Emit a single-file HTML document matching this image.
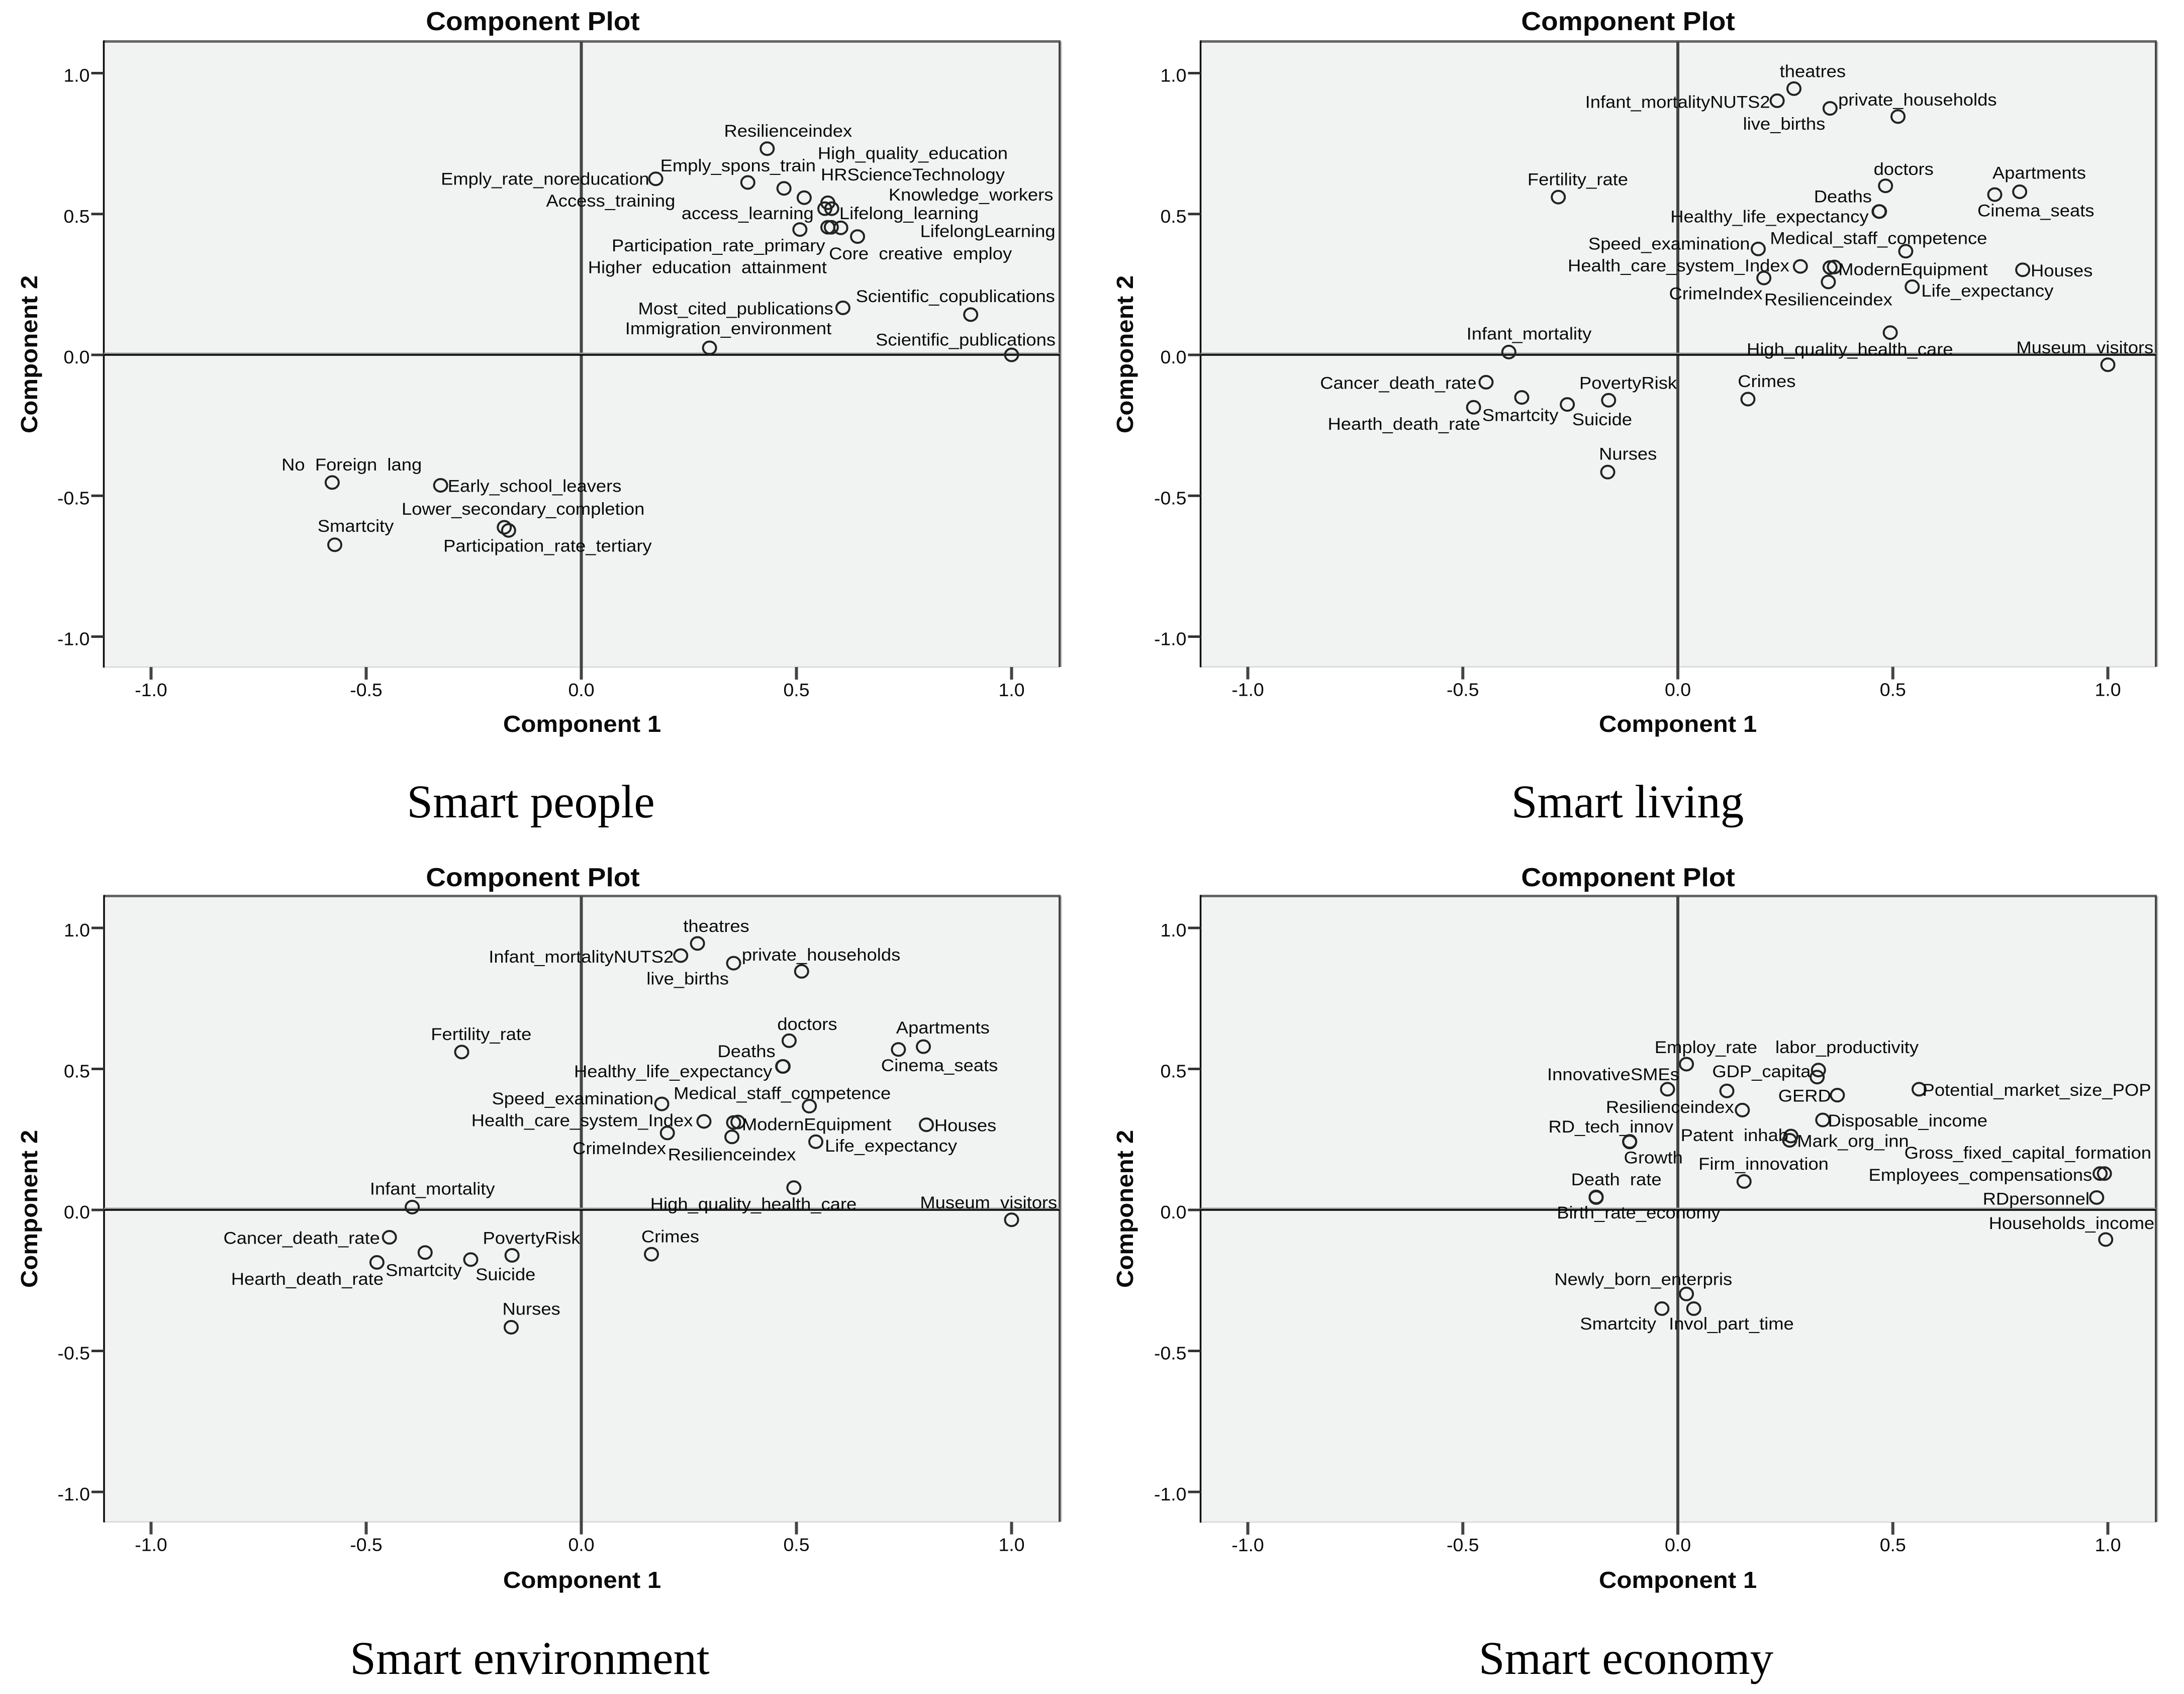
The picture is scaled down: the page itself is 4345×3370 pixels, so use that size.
<!DOCTYPE html>
<html lang="en">
<head>
<meta charset="utf-8">
<title>Component Plots</title>
<style>
html,body{margin:0;padding:0;background:#fff;}
svg{display:block;}
text{font-family:"Liberation Sans",sans-serif;fill:#0a0a0a;white-space:pre;}
.title{font-weight:bold;font-size:52px;}
.axis-title{font-weight:bold;font-size:46px;}
.caption{font-family:"Liberation Serif",serif;font-size:93px;fill:#000;}
</style>
</head>
<body>
<svg id="figure" xmlns="http://www.w3.org/2000/svg" width="4345" height="3370" viewBox="0 0 4345 3370">
  <rect x="0" y="0" width="4345" height="3370" fill="#fff"/>

  <g id="panel-people"></g>
  <g id="panel-living"></g>
  <g id="panel-environment"></g>
  <g id="panel-economy"></g>

  <text class="title" text-anchor="middle" transform="translate(1060,60) scale(1.06,1)">Component Plot</text>
  <text class="title" text-anchor="middle" transform="translate(3239,60) scale(1.06,1)">Component Plot</text>
  <text class="title" text-anchor="middle" transform="translate(1060,1763) scale(1.06,1)">Component Plot</text>
  <text class="title" text-anchor="middle" transform="translate(3239,1763) scale(1.06,1)">Component Plot</text>

  <text class="axis-title" text-anchor="middle" transform="translate(1158,1456) scale(1.07,1)">Component 1</text>
  <text class="axis-title" text-anchor="middle" transform="translate(3338,1456) scale(1.07,1)">Component 1</text>
  <text class="axis-title" text-anchor="middle" transform="translate(1158,3159) scale(1.07,1)">Component 1</text>
  <text class="axis-title" text-anchor="middle" transform="translate(3338,3159) scale(1.07,1)">Component 1</text>

  <text class="axis-title" text-anchor="middle" transform="translate(74,705) rotate(-90) scale(1.07,1)">Component 2</text>
  <text class="axis-title" text-anchor="middle" transform="translate(2254,705) rotate(-90) scale(1.07,1)">Component 2</text>
  <text class="axis-title" text-anchor="middle" transform="translate(74,2405) rotate(-90) scale(1.07,1)">Component 2</text>
  <text class="axis-title" text-anchor="middle" transform="translate(2254,2405) rotate(-90) scale(1.07,1)">Component 2</text>

  <text class="caption" text-anchor="middle" x="1056" y="1626">Smart people</text>
  <text class="caption" text-anchor="middle" x="3238" y="1626">Smart living</text>
  <text class="caption" text-anchor="middle" x="1054" y="3330">Smart environment</text>
  <text class="caption" text-anchor="middle" x="3235" y="3330">Smart economy</text>
</svg>

<script>
// ---- Tick data ----
const tickValues = [-1, -0.5, 0, 0.5, 1];
const tickLabels = ['-1.0', '-0.5', '0.0', '0.5', '1.0'];

// ---- Smart people ----
const peopleNames = ['Resilienceindex','High_quality_education','HRScienceTechnology','Emply_spons_train','Access_training','Emply_rate_noreducation','Knowledge_workers','access_learning','Lifelong_learning','LifelongLearning','Participation_rate_primary','Core  creative  employ','Higher  education  attainment','Most_cited_publications','Scientific_copublications','Immigration_environment','Scientific_publications','No  Foreign  lang','Early_school_leavers','Lower_secondary_completion','Smartcity','Participation_rate_tertiary'];
const peopleComp1 = [0.432,0.518,0.573,0.471,0.387,0.173,0.603,0.566,0.582,0.642,0.508,0.573,0.581,0.608,0.905,0.298,1.0,-0.579,-0.327,-0.179,-0.573,-0.169];
const peopleComp2 = [0.732,0.558,0.540,0.591,0.612,0.625,0.451,0.519,0.519,0.420,0.445,0.453,0.453,0.167,0.143,0.025,0.0,-0.453,-0.463,-0.612,-0.674,-0.623];
// label placement relative to each point (layout, not data)
const peopleLabelDx = [30,156,122,-66,-197,-159,187,-111,111,187,-117,133,-178,-154,-22,27,-66,28,135,27,30,56];
const peopleLabelDy = [-33,-82,-52,-42,33,0,-61,8,8,-10,29,48,73,1,-34,-36,-28,-33,1,-34,-35,28];

// ---- Smart living / Smart environment (same component solution) ----
const livingNames = ['theatres','Infant_mortalityNUTS2','live_births','private_households','doctors','Deaths','Healthy_life_expectancy','Apartments','Cinema_seats','Fertility_rate','Speed_examination','Medical_staff_competence','Health_care_system_Index','ModernEquipment','','CrimeIndex','Resilienceindex','Life_expectancy','Houses','High_quality_health_care','Museum  visitors','Infant_mortality','Cancer_death_rate','PovertyRisk','Crimes','Smartcity','Suicide','Hearth_death_rate','Nurses'];
const livingComp1 = [0.270,0.231,0.354,0.512,0.483,0.468,0.469,0.795,0.737,-0.278,0.187,0.530,0.285,0.364,0.354,0.200,0.350,0.545,0.802,0.494,1.0,-0.393,-0.446,-0.161,0.163,-0.363,-0.257,-0.475,-0.163];
const livingComp2 = [0.945,0.902,0.875,0.846,0.600,0.509,0.509,0.579,0.569,0.560,0.376,0.368,0.314,0.312,0.310,0.273,0.259,0.242,0.302,0.079,-0.035,0.010,-0.097,-0.161,-0.157,-0.151,-0.176,-0.186,-0.416];
const livingLabelDx = [27,-143,-66,28,26,-52,-158,28,59,28,-128,-39,-175,113,0,-69,0,108,56,-58,-33,29,-126,28,27,-2,50,-100,29];
const livingLabelDy = [-32,2,28,-31,-31,-28,9,-35,29,-33,-10,-24,-2,4,0,28,32,7,1,30,-32,-34,1,-32,-33,32,27,30,-34];

// ---- Smart economy ----
const economyNames = ['Employ_rate','labor_productivity','GDP_capita','','InnovativeSMEs','Resilienceindex','GERD','Potential_market_size_POP','Disposable_income','RD_tech_innov','Growth','Patent  inhab','Mark_org_inn','Firm_innovation','Death  rate','Birth_rate_economy','Gross_fixed_capital_formation','Employees_compensations','RDpersonnel','Households_income','Newly_born_enterpris','Smartcity','Invol_part_time'];
const economyComp1 = [0.020,0.327,0.324,0.114,-0.024,0.150,0.371,0.561,0.337,-0.112,-0.112,0.263,0.260,0.154,-0.190,-0.190,0.992,0.982,0.974,0.995,0.020,-0.037,0.037];
const economyComp2 = [0.517,0.496,0.471,0.422,0.428,0.354,0.407,0.428,0.319,0.243,0.241,0.262,0.247,0.101,0.046,0.044,0.129,0.129,0.044,-0.105,-0.298,-0.350,-0.350];
const economyLabelDx = [28,41,-80,0,-78,-104,-47,169,122,-27,34,-81,91,28,29,61,-110,-172,-87,-49,-62,-63,54];
const economyLabelDy = [-32,-43,-11,0,-28,-6,1,1,1,-28,29,-2,1,-33,-33,28,-39,2,2,-31,-28,28,28];

const SVG_NS = 'http://www.w3.org/2000/svg';

function make(tag, parent, attrs) {
  const el = document.createElementNS(SVG_NS, tag);
  for (const key in attrs) el.setAttribute(key, attrs[key]);
  parent.appendChild(el);
  return el;
}

function slug(text) {
  return text.toLowerCase().replace(/[^a-z0-9]+/g, '-').replace(/^-|-$/g, '');
}

function drawPanel(id, box, names, comp1, comp2, labelDx, labelDy, offsetScaleY) {
  const root = document.getElementById(id);
  const xScale = v => box.x0 + v * box.ux;
  const yScale = v => box.y0 - v * box.uy;

  const bg = make('rect', root, {x: box.left, y: box.top, width: box.right - box.left, height: box.bottom - box.top, fill: '#f1f3f2'});
  
  

  const topEdge = make('line', root, {x1: box.left, x2: box.right + 2, y1: box.top, y2: box.top, stroke: '#666', 'stroke-width': 5});
  
  

  const bottomEdge = make('line', root, {x1: box.left, x2: box.right, y1: box.bottom, y2: box.bottom, stroke: '#dcdcdc', 'stroke-width': 3});
  
  

  const rightShade = make('line', root, {x1: box.right + 3, x2: box.right + 3, y1: box.top, y2: box.bottom, stroke: '#bbb', 'stroke-width': 3});
  
  

  const rightEdge = make('line', root, {x1: box.right, x2: box.right, y1: box.top, y2: box.bottom, stroke: '#444', 'stroke-width': 4});
  
  

  const leftEdge = make('line', root, {x1: box.left, x2: box.left, y1: box.top - 2, y2: box.bottom + 1, stroke: '#0a0a0a', 'stroke-width': 3.5});
  
  

  const zeroV = make('line', root, {x1: xScale(0), x2: xScale(0), y1: box.top, y2: box.bottom, stroke: '#444', 'stroke-width': 6});
  
  

  const zeroHShade = make('line', root, {x1: box.left, x2: box.right, y1: yScale(0) - 3, y2: yScale(0) - 3, stroke: '#999', 'stroke-width': 3});
  
  

  const zeroH = make('line', root, {x1: box.left, x2: box.right, y1: yScale(0), y2: yScale(0), stroke: '#0a0a0a', 'stroke-width': 3.5});
  
  

  tickValues.forEach((value, i) => {
    const tx = xScale(value);
    const ty = yScale(value);

    const xTick = make('line', root, {x1: tx, x2: tx, y1: box.bottom, y2: box.bottom + 25, stroke: '#444', 'stroke-width': 6});
    
    

    const xLabel = make('text', root, {'text-anchor': 'middle', 'font-size': 36, transform: 'translate(' + tx + ',' + (box.bottom + 58) + ') scale(1.04,1)'});
    xLabel.textContent = tickLabels[i];
    
    

    const yTick = make('line', root, {x1: box.left - 25, x2: box.left, y1: ty, y2: ty, stroke: '#333', 'stroke-width': 5});
    
    

    const yLabel = make('text', root, {'text-anchor': 'end', 'font-size': 36, transform: 'translate(' + (box.left - 28) + ',' + (ty + 17) + ') scale(1.04,1)'});
    yLabel.textContent = tickLabels[i];
    
    
  });

  names.forEach((name, i) => {
    const px = xScale(comp1[i]);
    const py = yScale(comp2[i]);

    const point = make('ellipse', root, {cx: px, cy: py, rx: 13, ry: 12.5, fill: 'none', stroke: '#222', 'stroke-width': 4});
    
    

    if (name) {
      const lx = px + labelDx[i] * 1.385;
      const ly = py + labelDy[i] * offsetScaleY + 12;
      const label = make('text', root, {'text-anchor': 'middle', 'font-size': 34, transform: 'translate(' + lx + ',' + ly + ') scale(1.07,1)'});
      label.textContent = name;
      
      
    }
  });
}

drawPanel('panel-people',
  {left: 206.5, right: 2108, top: 82.5, bottom: 1327, x0: 1156.5, y0: 706, ux: 856, uy: 560.5},
  peopleNames, peopleComp1, peopleComp2, peopleLabelDx, peopleLabelDy, 1.0845);
drawPanel('panel-living',
  {left: 2388.5, right: 4289, top: 82.5, bottom: 1326.5, x0: 3338, y0: 706, ux: 855.5, uy: 560.5},
  livingNames, livingComp1, livingComp2, livingLabelDx, livingLabelDy, 1.0845);
drawPanel('panel-environment',
  {left: 207, right: 2108, top: 1782.5, bottom: 3027.5, x0: 1156.5, y0: 2407, ux: 856, uy: 561},
  livingNames, livingComp1, livingComp2, livingLabelDx, livingLabelDy, 1.0845);
drawPanel('panel-economy',
  {left: 2388.5, right: 4289, top: 1782.5, bottom: 3028, x0: 3338, y0: 2407, ux: 855.5, uy: 561},
  economyNames, economyComp1, economyComp2, economyLabelDx, economyLabelDy, 1.065);
</script>
</body>
</html>
